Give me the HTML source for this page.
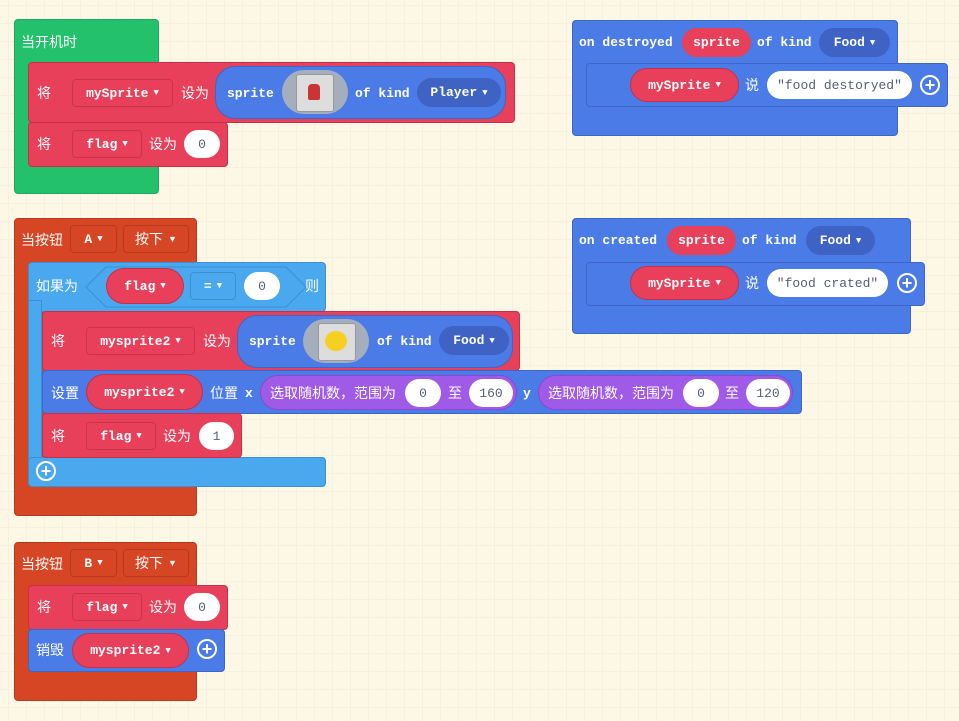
<!DOCTYPE html>
<html><head><meta charset="utf-8"><style>
body{margin:0;width:959px;height:721px;overflow:hidden;background:#fdf7e6;
background-image:linear-gradient(#f8f0de 1px,transparent 1px),linear-gradient(90deg,#f8f0de 1px,transparent 1px);background-size:18px 18px;background-position:8px 5px;
font-family:"Liberation Mono",monospace;position:relative}
div{position:absolute;box-sizing:border-box}
.t{color:#fff;font-weight:bold;font-size:13px;white-space:nowrap;line-height:1}
.c{color:#fff;font-family:"Liberation Sans","Noto Sans CJK SC",sans-serif;font-size:14px;white-space:nowrap;line-height:1}
.r{background:#e8405a;border:1px solid #c5304b;border-radius:4px}
.g{background:#23c16b;border:1px solid #1fa85d;border-radius:4px}
.o{background:#d64524;border:1px solid #b83a1e;border-radius:4px}
.lb{background:#4aa8ef;border:1px solid #3b90d2;border-radius:4px}
.b{background:#4b7be6;border:1px solid #3d66c6;border-radius:4px}
.dd{border:1px solid rgba(0,0,0,.15);border-radius:4px;display:flex;align-items:center;justify-content:center;color:#fff;font-weight:bold;font-size:13px;white-space:nowrap}
.pill{border-radius:20px;display:flex;align-items:center;justify-content:center;color:#fff;font-weight:bold;font-size:13px;white-space:nowrap}
.num{background:#fff;border-radius:16px;display:flex;align-items:center;justify-content:center;color:#575e75;font-size:13px}
.plus{width:20px;height:20px;border-radius:50%;border:2px solid #fff;color:#fff;font-weight:bold;font-size:18px;display:flex;align-items:center;justify-content:center;line-height:1;font-family:"Liberation Sans",sans-serif}
.img{background:#a4aebd;border-radius:22px}
.img i{position:absolute;left:15px;top:4px;width:36px;height:36px;background:#ddd;border:1px solid #999;border-radius:3px}
.v{font-size:9px;margin-left:5px}
</style></head><body>

<div class="g" style="left:14px;top:19px;width:145px;height:175px"></div>
<div class="c" style="left:21px;top:35px">当开机时</div>
<div class="r" style="left:28px;top:62px;width:487px;height:61px"></div>
<div class="c" style="left:37px;top:86px">将</div>
<div class="dd" style="left:72px;top:79px;width:101px;height:28px">mySprite<span class="v">▼</span></div>
<div class="c" style="left:181px;top:86px">设为</div>
<div class="pill" style="left:215px;top:66px;width:291px;height:53px;background:#4b7be6;border:1px solid #3d66c6"></div>
<div class="t" style="left:227px;top:87px">sprite</div>
<div class="img" style="left:282px;top:70px;width:66px;height:44px"><i style="left:14px;top:4px"><b style="position:absolute;left:11px;top:9px;width:12px;height:16px;background:#c33;border-radius:4px 4px 2px 2px"></b></i></div>
<div class="t" style="left:355px;top:87px">of kind</div>
<div class="pill" style="left:417px;top:78px;width:84px;height:29px;background:#3e63c4">Player<span class="v">▼</span></div>
<div class="r" style="left:28px;top:122px;width:200px;height:45px"></div>
<div class="c" style="left:37px;top:137px">将</div>
<div class="dd" style="left:72px;top:130px;width:70px;height:28px">flag<span class="v">▼</span></div>
<div class="c" style="left:149px;top:137px">设为</div>
<div class="num" style="left:184px;top:130px;width:36px;height:28px">0</div>

<div class="b" style="left:572px;top:20px;width:326px;height:116px"></div>
<div class="t" style="left:579px;top:36px">on destroyed</div>
<div class="pill" style="left:682px;top:28px;width:69px;height:29px;background:#e8405a">sprite</div>
<div class="t" style="left:757px;top:36px">of kind</div>
<div class="pill" style="left:819px;top:28px;width:71px;height:29px;background:#3e63c4">Food<span class="v">▼</span></div>
<div class="b" style="left:586px;top:63px;width:362px;height:44px"></div>
<div class="pill" style="left:630px;top:68px;width:109px;height:34px;background:#e8405a;border:1px solid #c5304b">mySprite<span class="v">▼</span></div>
<div class="c" style="left:745px;top:78px">说</div>
<div class="num" style="left:767px;top:71px;width:145px;height:28px">"food destoryed"</div>
<div class="plus" style="left:920px;top:75px">+</div>

<div class="b" style="left:572px;top:218px;width:339px;height:116px"></div>
<div class="t" style="left:579px;top:234px">on created</div>
<div class="pill" style="left:667px;top:226px;width:69px;height:29px;background:#e8405a">sprite</div>
<div class="t" style="left:742px;top:234px">of kind</div>
<div class="pill" style="left:806px;top:226px;width:69px;height:29px;background:#3e63c4">Food<span class="v">▼</span></div>
<div class="b" style="left:586px;top:262px;width:339px;height:44px"></div>
<div class="pill" style="left:630px;top:266px;width:109px;height:34px;background:#e8405a;border:1px solid #c5304b">mySprite<span class="v">▼</span></div>
<div class="c" style="left:745px;top:276px">说</div>
<div class="num" style="left:767px;top:269px;width:121px;height:28px">"food crated"</div>
<div class="plus" style="left:897px;top:273px">+</div>

<div class="o" style="left:14px;top:218px;width:183px;height:298px"></div>
<div class="c" style="left:21px;top:233px">当按钮</div>
<div class="dd" style="left:70px;top:225px;width:47px;height:28px">A<span class="v">▼</span></div>
<div class="dd" style="left:123px;top:225px;width:66px;height:28px;font-family:'Liberation Sans','Noto Sans CJK SC',sans-serif;font-weight:normal;font-size:14px">按下<span class="v">▼</span></div>
<div class="lb" style="left:28px;top:262px;width:298px;height:50px"></div>
<div class="lb" style="left:28px;top:300px;width:14px;height:170px;border-radius:0"></div>
<div class="lb" style="left:28px;top:457px;width:298px;height:30px"></div>
<div class="c" style="left:36px;top:279px">如果为</div>
<svg style="position:absolute;left:85px;top:266px" width="222" height="42"><polygon points="1,21 21,1 201,1 221,21 201,41 21,41" fill="#4aa8ef" stroke="#3b90d2"/></svg>
<div class="pill" style="left:106px;top:268px;width:78px;height:36px;background:#e8405a;border:1px solid #c5304b">flag<span class="v">▼</span></div>
<div class="dd" style="left:190px;top:272px;width:46px;height:28px">=<span class="v">▼</span></div>
<div class="num" style="left:244px;top:272px;width:36px;height:28px">0</div>
<div class="c" style="left:305px;top:279px">则</div>

<div class="r" style="left:42px;top:311px;width:478px;height:60px"></div>
<div class="c" style="left:51px;top:334px">将</div>
<div class="dd" style="left:86px;top:327px;width:109px;height:28px">mysprite2<span class="v">▼</span></div>
<div class="c" style="left:203px;top:334px">设为</div>
<div class="pill" style="left:237px;top:315px;width:276px;height:53px;background:#4b7be6;border:1px solid #3d66c6"></div>
<div class="t" style="left:249px;top:335px">sprite</div>
<div class="img" style="left:303px;top:319px;width:66px;height:44px"><i><b style="position:absolute;left:6px;top:7px;width:22px;height:20px;background:#f5d020;border-radius:50%"></b></i></div>
<div class="t" style="left:377px;top:335px">of kind</div>
<div class="pill" style="left:439px;top:326px;width:70px;height:29px;background:#3e63c4">Food<span class="v">▼</span></div>

<div class="b" style="left:42px;top:370px;width:760px;height:44px"></div>
<div class="c" style="left:51px;top:386px">设置</div>
<div class="pill" style="left:86px;top:374px;width:117px;height:36px;background:#e8405a;border:1px solid #c5304b">mysprite2<span class="v">▼</span></div>
<div class="c" style="left:210px;top:386px">位置</div>
<div class="t" style="left:245px;top:387px">x</div>
<div class="pill" style="left:260px;top:375px;width:257px;height:35px;background:#a05ae8;border:1px solid #8a47cf"></div>
<div class="c" style="left:270px;top:386px">选取随机数，范围为</div>
<div class="num" style="left:405px;top:379px;width:36px;height:28px">0</div>
<div class="c" style="left:448px;top:386px">至</div>
<div class="num" style="left:469px;top:379px;width:44px;height:28px">160</div>
<div class="t" style="left:523px;top:387px">y</div>
<div class="pill" style="left:538px;top:375px;width:255px;height:35px;background:#a05ae8;border:1px solid #8a47cf"></div>
<div class="c" style="left:548px;top:386px">选取随机数，范围为</div>
<div class="num" style="left:683px;top:379px;width:36px;height:28px">0</div>
<div class="c" style="left:725px;top:386px">至</div>
<div class="num" style="left:746px;top:379px;width:44px;height:28px">120</div>

<div class="r" style="left:42px;top:413px;width:200px;height:45px"></div>
<div class="c" style="left:51px;top:429px">将</div>
<div class="dd" style="left:86px;top:422px;width:70px;height:28px">flag<span class="v">▼</span></div>
<div class="c" style="left:163px;top:429px">设为</div>
<div class="num" style="left:199px;top:422px;width:35px;height:28px">1</div>
<div class="plus" style="left:36px;top:461px">+</div>

<div class="o" style="left:14px;top:542px;width:183px;height:159px"></div>
<div class="c" style="left:21px;top:557px">当按钮</div>
<div class="dd" style="left:70px;top:549px;width:47px;height:28px">B<span class="v">▼</span></div>
<div class="dd" style="left:123px;top:549px;width:66px;height:28px;font-family:'Liberation Sans','Noto Sans CJK SC',sans-serif;font-weight:normal;font-size:14px">按下<span class="v">▼</span></div>
<div class="r" style="left:28px;top:585px;width:200px;height:45px"></div>
<div class="c" style="left:37px;top:600px">将</div>
<div class="dd" style="left:72px;top:593px;width:70px;height:28px">flag<span class="v">▼</span></div>
<div class="c" style="left:149px;top:600px">设为</div>
<div class="num" style="left:184px;top:593px;width:36px;height:28px">0</div>
<div class="b" style="left:28px;top:629px;width:197px;height:43px"></div>
<div class="c" style="left:36px;top:643px">销毁</div>
<div class="pill" style="left:72px;top:633px;width:117px;height:35px;background:#e8405a;border:1px solid #c5304b">mysprite2<span class="v">▼</span></div>
<div class="plus" style="left:197px;top:639px">+</div>
</body></html>
